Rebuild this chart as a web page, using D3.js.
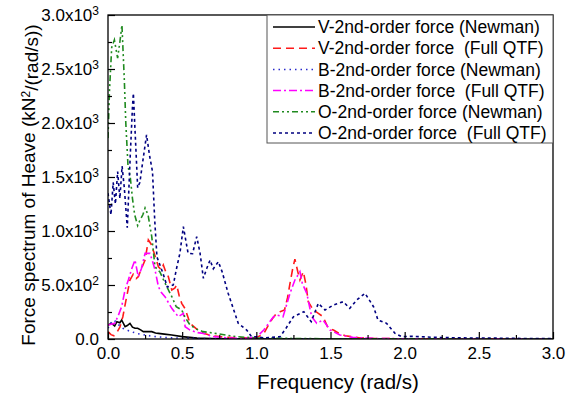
<!DOCTYPE html>
<html>
<head>
<meta charset="utf-8">
<script src="https://cdn.jsdelivr.net/npm/d3@7"></script>
<style>
body { margin: 0; background: #fff; }
svg { display: block; font-family: "Liberation Sans", Arial, sans-serif; }
.axis path, .axis line { stroke: #000; }
.axis text { fill: #000; }
</style>
</head>
<body>
<svg id="chart" width="569" height="394"></svg>
<script>
// spectra, [frequency rad/s, value]
var vNewman = [[0,130],[0.025,145],[0.045,120],[0.06,160],[0.08,150],[0.092,176],[0.115,114],[0.13,125],[0.148,145],
    [0.165,110],[0.182,99],[0.2,100],[0.22,85],[0.238,68],[0.26,70],[0.295,68],[0.32,55],[0.34,52],[0.38,45],[0.43,37],
    [0.5,22],[0.55,15],[0.6,8],[0.7,4],[0.8,2],[1.0,1],[1.5,0],[3.0,0]];
var vFull = [[0,68],[0.02,40],[0.04,30],[0.06,60],[0.08,110],[0.1,206],[0.12,350],[0.148,546],[0.17,600],[0.19,560],
    [0.204,577],[0.225,650],[0.25,731],[0.272,917],[0.29,880],[0.31,800],[0.34,669],[0.36,640],[0.373,685],[0.39,620],
    [0.407,577],[0.43,454],[0.45,470],[0.463,500],[0.48,400],[0.497,330],[0.52,280],[0.553,145],[0.6,90],[0.643,52],
    [0.7,30],[0.8,15],[0.9,10],[1.0,12],[1.05,50],[1.09,150],[1.115,200],[1.137,238],[1.16,253],[1.19,269],[1.21,380],
    [1.227,515],[1.245,650],[1.26,740],[1.28,620],[1.294,546],[1.317,623],[1.335,500],[1.35,345],[1.384,269],[1.418,238],
    [1.45,206],[1.485,99],[1.52,83],[1.56,50],[1.6,30],[1.7,10],[1.8,5],[2.0,2],[3.0,0]];
var bNewman = [[0,100],[0.02,150],[0.04,175],[0.06,150],[0.08,120],[0.1,100],[0.15,70],[0.2,50],[0.3,25],[0.4,12],
    [0.6,5],[1.0,2],[3.0,0]];
var bFull = [[0,130],[0.03,140],[0.046,145],[0.07,220],[0.092,299],[0.115,454],[0.137,546],[0.16,650],[0.182,731],
    [0.204,577],[0.225,650],[0.25,793],[0.283,793],[0.3,720],[0.317,639],[0.34,484],[0.36,430],[0.384,392],[0.41,330],
    [0.43,284],[0.474,206],[0.508,238],[0.52,114],[0.553,83],[0.6,60],[0.643,52],[0.7,25],[0.8,10],[0.9,5],[1.0,15],
    [1.05,83],[1.115,206],[1.137,222],[1.18,206],[1.227,423],[1.26,546],[1.294,623],[1.31,515],[1.34,423],[1.373,206],
    [1.407,145],[1.45,176],[1.497,83],[1.564,37],[1.65,15],[1.8,5],[2.0,2],[3.0,0]];
var oNewman = [[0,1860],[0.01,2300],[0.025,2700],[0.043,2770],[0.065,2600],[0.08,2750],[0.094,2907],[0.11,2400],
    [0.12,2000],[0.135,1600],[0.15,1500],[0.165,1300],[0.18,1150],[0.2,1050],[0.216,1102],[0.235,1150],[0.25,1213],
    [0.27,1150],[0.295,947],[0.317,669],[0.35,620],[0.384,518],[0.43,392],[0.46,299],[0.497,269],[0.52,200],[0.553,130],
    [0.6,90],[0.64,68],[0.71,55],[0.8,35],[0.87,21],[1.0,10],[1.1,8],[1.3,4],[1.5,2],[2.0,1],[3.0,0]];
var oFull = [[0,1350],[0.02,1150],[0.035,1450],[0.05,1250],[0.065,1550],[0.08,1300],[0.095,1600],[0.11,1400],
    [0.13,1030],[0.15,1700],[0.165,2150],[0.171,2275],[0.18,2000],[0.2,1400],[0.215,1450],[0.235,1650],[0.26,1890],
    [0.28,1700],[0.3,1550],[0.315,1100],[0.33,760],[0.37,611],[0.4,481],[0.44,500],[0.46,640],[0.485,796],[0.508,1040],
    [0.54,793],[0.57,790],[0.598,947],[0.62,800],[0.643,562],[0.665,650],[0.688,731],[0.71,650],[0.744,716],[0.77,620],
    [0.81,423],[0.85,260],[0.878,145],[0.935,83],[0.968,21],[1.0,20],[1.05,10],[1.1,15],[1.16,21],[1.2,100],[1.25,206],
    [1.32,253],[1.37,160],[1.418,330],[1.463,268],[1.52,315],[1.586,345],[1.63,284],[1.677,361],[1.733,423],[1.79,299],
    [1.82,176],[1.878,145],[1.935,52],[1.98,21],[2.05,25],[2.2,15],[2.4,10],[2.6,8],[2.8,5],[3.0,3]];

var seriesNames = ["V-2nd-order force (Newman)", "V-2nd-order force  (Full QTF)", "B-2nd-order force (Newman)",
    "B-2nd-order force  (Full QTF)", "O-2nd-order force (Newman)", "O-2nd-order force  (Full QTF)"];
var seriesData = [vNewman, vFull, bNewman, bFull, oNewman, oFull];
var seriesColor = ["#000000", "#ff1a1a", "#2a2acc", "#ff00ff", "#1f8a1f", "#000080"];
var seriesDash = ["none", "8,5", "1.5,4", "8,3,2,3", "6,3,2,3,2,3", "3,3"];

var xTicks = [0, 0.5, 1.0, 1.5, 2.0, 2.5, 3.0];
var xMinor = [0.25, 0.75, 1.25, 1.75, 2.25, 2.75];
var yTicks = [0, 500, 1000, 1500, 2000, 2500, 3000];
var yMinor = [250, 750, 1250, 1750, 2250, 2750];
var yTickText = ["0.0", "5.0x10", "1.0x10", "1.5x10", "2.0x10", "2.5x10", "3.0x10"];
var yTickSup = ["", "2", "3", "3", "3", "3", "3"];

var svg = d3.select("#chart"),
    margin = { top: 15, right: 16, bottom: 55, left: 108 },
    width = 569 - margin.left - margin.right,
    height = 394 - margin.top - margin.bottom;

var g = svg.append("g").attr("transform", "translate(" + margin.left + "," + margin.top + ")");

var x = d3.scaleLinear().domain([0, 3]).range([0, width]);
var y = d3.scaleLinear().domain([0, 3000]).range([height, 0]);

g.append("clipPath").attr("id", "clip")
    .append("rect").attr("width", width).attr("height", height);

// curves
var line = d3.line()
    .x(function(d) { return x(d[0]); })
    .y(function(d) { return y(d[1]); });

g.append("g").attr("clip-path", "url(#clip)")
    .selectAll(".series")
    .data(seriesData)
    .enter().append("path")
    .attr("class", "series")
    .attr("d", line)
    .attr("fill", "none")
    .attr("stroke", function(d, i) { return seriesColor[i]; })
    .attr("stroke-width", 1.6)
    .attr("stroke-dasharray", function(d, i) { return seriesDash[i]; });

// frame
g.append("rect")
    .attr("width", width).attr("height", height)
    .attr("fill", "none").attr("stroke", "#000").attr("stroke-width", 1.3);

// axes, ticks pointing inward
var xAxis = g.append("g").attr("class", "axis")
    .attr("transform", "translate(0," + height + ")")
    .call(d3.axisBottom(x).tickValues(xTicks).tickSize(-7).tickPadding(8).tickFormat(d3.format(".1f")));
g.append("g").attr("class", "axis")
    .attr("transform", "translate(0," + height + ")")
    .call(d3.axisBottom(x).tickValues(xMinor).tickSize(-4).tickFormat(""));

var yAxis = g.append("g").attr("class", "axis")
    .call(d3.axisLeft(y).tickValues(yTicks).tickSize(-7).tickPadding(9).tickFormat(""));
g.append("g").attr("class", "axis")
    .call(d3.axisLeft(y).tickValues(yMinor).tickSize(-4).tickFormat(""));

svg.selectAll(".axis path").remove();
svg.selectAll(".axis line").attr("stroke-width", 1.2);

xAxis.selectAll("text").style("font-size", "17px");

yAxis.selectAll(".tick text")
    .style("font-size", "17px")
    .attr("dy", "0.3em")
    .each(function(d, i) {
        var t = d3.select(this);
        t.text(null);
        t.append("tspan").text(yTickText[i]);
        if (yTickSup[i]) {
            t.append("tspan").attr("dy", "-0.5em").style("font-size", "12px").text(yTickSup[i]);
        }
    });

// axis titles
svg.append("text")
    .attr("x", 338).attr("y", 389)
    .attr("text-anchor", "middle")
    .style("font-size", "20.5px")
    .text("Frequency (rad/s)");

var yTitle = svg.append("text")
    .attr("transform", "translate(35,185) rotate(-90)")
    .attr("text-anchor", "middle")
    .style("font-size", "19px");
yTitle.append("tspan").text("Force spectrum of Heave (kN");
yTitle.append("tspan").attr("dy", "-0.45em").style("font-size", "12px").text("2");
yTitle.append("tspan").attr("dy", "0.45em").text("/(rad/s))");

// legend
var legend = g.append("g").attr("transform", "translate(" + (267 - margin.left) + ",0)");
legend.append("rect")
    .attr("width", 553 - 267).attr("height", 128)
    .attr("fill", "#fff").attr("stroke", "#555").attr("stroke-width", 1);

var item = legend.selectAll(".item")
    .data(seriesNames)
    .enter().append("g")
    .attr("class", "item")
    .attr("transform", function(d, i) { return "translate(0," + (12 + i * 21.2) + ")"; });

item.append("line")
    .attr("x1", 6).attr("x2", 48)
    .attr("stroke", function(d, i) { return seriesColor[i]; })
    .attr("stroke-width", 1.5)
    .attr("stroke-dasharray", function(d, i) { return seriesDash[i]; });

item.append("text")
    .attr("x", 51).attr("dy", "0.35em")
    .style("font-size", "17.5px")
    .style("white-space", "pre")
    .text(function(d) { return d; });
</script>
</body>
</html>
